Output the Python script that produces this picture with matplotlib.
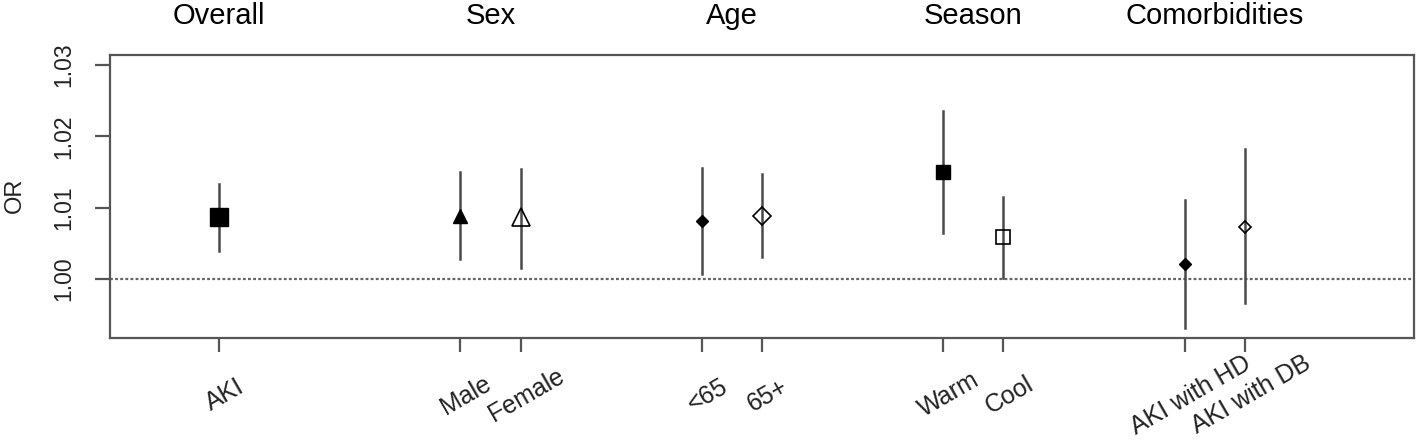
import matplotlib
matplotlib.use('Agg')
import matplotlib.pyplot as plt
from matplotlib.transforms import ScaledTranslation

plt.rcParams['font.family'] = ['Liberation Sans', 'DejaVu Sans']

# estimates
xpos = [1, 5, 6, 9, 10, 13, 14, 17, 18]
labels = ['AKI', 'Male', 'Female', '<65', '65+', 'Warm', 'Cool', 'AKI with HD', 'AKI with DB']
or_est = [1.0087, 1.0089, 1.0087, 1.0082, 1.0089, 1.0150, 1.0059, 1.0021, 1.0073]
or_lo = [1.0039, 1.0028, 1.0016, 1.0007, 1.0031, 1.0064, 1.0002, 0.9932, 0.9966]
or_hi = [1.0133, 1.0150, 1.0154, 1.0156, 1.0147, 1.0236, 1.0115, 1.0111, 1.0182]
markers = ['s', '^', '^', 'D', 'D', 's', 's', 'D', 'D']
filled = [True, True, False, True, False, True, False, True, False]
msizes = [13, 10, 13, 6.2, 9, 9.5, 9.5, 6.6, 6.2]

groups = ['Overall', 'Sex', 'Age', 'Season', 'Comorbidities']
group_x = [1, 5.5, 9.5, 13.5, 17.5]

fig = plt.figure(figsize=(14.18, 4.40), dpi=100)
ax = fig.add_axes([110 / 1418, 1 - 338 / 440, 1304 / 1418, 283 / 440])

ax.axhline(1.0, color='#666666', lw=1.6, ls=(0, (1.3, 1.0)), zorder=1)

for i in range(len(xpos)):
    ax.plot([xpos[i], xpos[i]], [or_lo[i], or_hi[i]], color='#4a4a4a', lw=1.8, zorder=2)
    if filled[i]:
        ax.plot(xpos[i], or_est[i], marker=markers[i], ms=msizes[i], color='black',
                mec='black', zorder=3)
    else:
        ax.plot(xpos[i], or_est[i], marker=markers[i], ms=msizes[i], mfc='none',
                mec='black', mew=1.2, zorder=3)

ax.set_xlim(-0.8, 20.8)
ax.set_ylim(0.99173, 1.0314)

ax.set_yticks([1.00, 1.01, 1.02, 1.03])
ax.set_yticklabels(['1.00', '1.01', '1.02', '1.03'], rotation=90, va='center',
                   ha='center', rotation_mode='anchor', fontsize=16.5, color='#222222')
ax.set_xticks(xpos)
ax.set_xticklabels(labels, rotation=30, ha='center', va='center',
                   rotation_mode='anchor', fontsize=18, color='#222222')
ax.tick_params(axis='x', length=10, width=1.6, color='#555555', pad=31)
ax.tick_params(axis='y', length=10.5, width=1.6, color='#555555', pad=23)
for lab in ax.get_xticklabels():
    lab.set_transform(lab.get_transform() + ScaledTranslation(0.06, 0, fig.dpi_scale_trans))

for s in ax.spines.values():
    s.set_color('#555555')
    s.set_linewidth(1.6)

ax.set_ylabel('OR', fontsize=17, color='#222222', va='center')
ax.yaxis.set_label_coords(-0.0728, 0.505)

for g, gx in zip(groups, group_x):
    ax.text(gx, (338 - 16) / 283, g, transform=ax.get_xaxis_transform(),
            fontsize=21, ha='center', va='center', color='black')

plt.savefig('out.png', dpi=100)
